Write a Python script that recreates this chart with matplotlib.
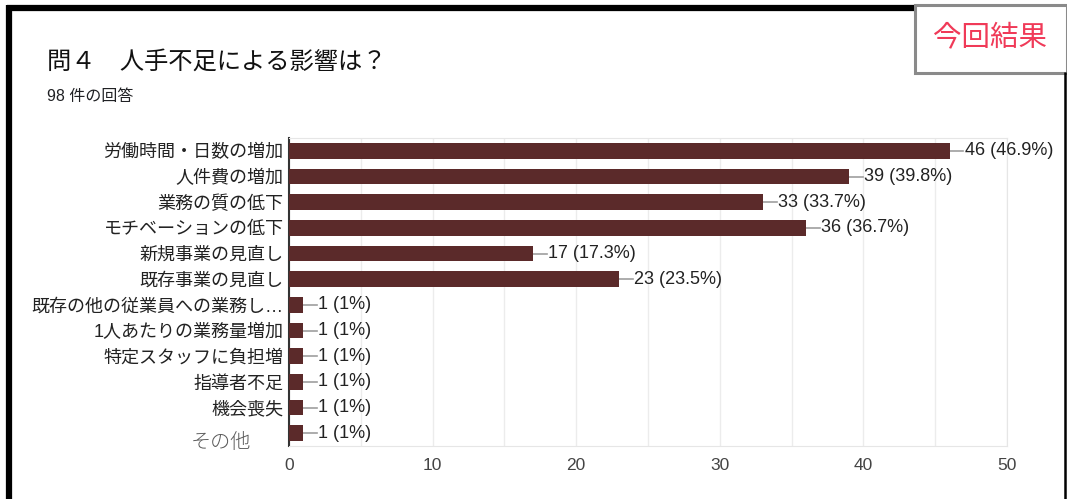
import matplotlib
matplotlib.use('Agg')
import matplotlib.pyplot as plt
from matplotlib.lines import Line2D
from matplotlib.patches import Rectangle
from matplotlib.transforms import ScaledTranslation

plt.rcParams['font.family'] = ['Liberation Sans', 'Noto Sans CJK JP', 'DejaVu Sans']

# 回答データ
項目 = ['労働時間・日数の増加', '人件費の増加', '業務の質の低下', 'モチベーションの低下',
      '新規事業の見直し', '既存事業の見直し', '既存の他の従業員への業務し…',
      '1人あたりの業務量増加', '特定スタッフに負担増', '指導者不足', '機会喪失', 'その他']
件数 = [46, 39, 33, 36, 17, 23, 1, 1, 1, 1, 1, 1]
割合 = ['46.9%', '39.8%', '33.7%', '36.7%', '17.3%', '23.5%', '1%', '1%', '1%', '1%', '1%', '1%']
目盛 = [0, 10, 20, 30, 40, 50]

fig = plt.figure(figsize=(10.67, 4.99), dpi=100)
ax = fig.add_axes([289/1067, 1-446/499, 718/1067, 308/499])

y = list(range(len(項目)))
ax.barh(y, 件数, height=0.62, color='#5b2a2a', zorder=3)

# 値ラベル(引き出し線つき)
for i, (v, p) in enumerate(zip(件数, 割合)):
    ax.plot([v, v + 0.95], [i, i], color='#9e9e9e', lw=1.2, zorder=2, clip_on=False)
    ax.text(v + 1.05, i, f'{v} ({p})', va='center', ha='left', fontsize=13,
            color='#222222', zorder=4, clip_on=False)

ax.set_xlim(0, 50)
ax.set_ylim(len(項目) - 0.5, -0.5)
ax.set_yticks(y)
ax.set_yticklabels(項目, fontsize=13, color='#222222')
ax.set_xticks(目盛)
ax.set_xticklabels([str(t) for t in 目盛], fontsize=12.5, color='#444444')
ax.set_xticks(range(5, 50, 10), minor=True)
ax.tick_params(axis='both', length=0)
ax.tick_params(axis='x', which='minor', length=0)
ax.tick_params(axis='y', pad=4)
ax.tick_params(axis='x', pad=9)
ax.grid(axis='x', which='both', color='#ececec', lw=1, zorder=0)

# 「その他」だけ少しずらして細めに
lbl = ax.get_yticklabels()[-1]
lbl.set_transform(lbl.get_transform() + ScaledTranslation(-0.32, -0.07, fig.dpi_scale_trans))
lbl.set_fontsize(14.5)
lbl.set_color('#5a5a5a')
lbl.set_fontweight('light')

for s in ['top', 'right', 'bottom']:
    ax.spines[s].set_color('#e6e6e6')
ax.spines['left'].set_color('#333333')
ax.spines['left'].set_linewidth(1.5)

# 見出し
fig.text(47/1067, 1-62/499, '問４　人手不足による影響は？', fontsize=17.5, color='#111111',
         va='center', ha='left')
fig.text(47/1067, 1-97/499, '98 件の回答', fontsize=11.5, color='#202124',
         va='center', ha='left')

# 外枠
fig.add_artist(Line2D([9/1067, 9/1067], [0, 1-5/499], transform=fig.transFigure,
                      color='black', lw=4.5, solid_capstyle='butt'))
fig.add_artist(Line2D([6.5/1067, 914/1067], [1-8/499, 1-8/499], transform=fig.transFigure,
                      color='black', lw=4.5, solid_capstyle='butt'))
fig.add_artist(Line2D([1065/1067, 1065/1067], [0, 1-72/499], transform=fig.transFigure,
                      color='black', lw=1.8, solid_capstyle='butt'))

# 今回結果のスタンプ
fig.add_artist(Rectangle((915/1067, 1-73/499), 152/1067, 68/499, transform=fig.transFigure,
                         facecolor='white', edgecolor='#8a8a8a', lw=2.2))
fig.text(990/1067, 1-38/499, '今回結果', fontsize=20.5, color='#f03a58',
         va='center', ha='center')

fig.savefig('out.png', dpi=100)
